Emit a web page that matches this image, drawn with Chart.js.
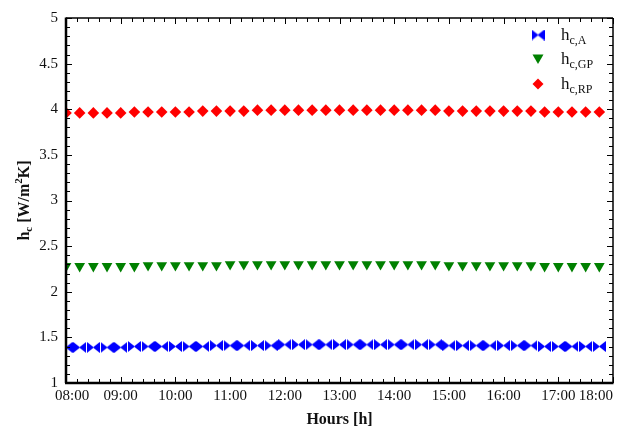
<!DOCTYPE html>
<html>
<head>
<meta charset="utf-8">
<script src="https://cdn.jsdelivr.net/npm/chart.js"></script>
<style>
html,body{margin:0;padding:0;background:#fff;}
#wrap{width:622px;height:430px;}
</style>
</head>
<body>
<div id="wrap"><canvas id="hcChart" width="622" height="430"></canvas></div>
<script>
// measurement times (every 15 min)
const times = ['08:00','08:15','08:30','08:45','09:00','09:15','09:30','09:45',
  '10:00','10:15','10:30','10:45','11:00','11:15','11:30','11:45',
  '12:00','12:15','12:30','12:45','13:00','13:15','13:30','13:45',
  '14:00','14:15','14:30','14:45','15:00','15:15','15:30','15:45',
  '16:00','16:15','16:30','16:45','17:00','17:15','17:30','17:45'];

const hcA = [1.39,1.39,1.39,1.39,1.39,1.40,1.40,1.40,1.40,1.40,1.40,1.41,1.41,1.41,1.41,1.41,
  1.42,1.42,1.42,1.42,1.42,1.42,1.42,1.42,1.42,1.42,1.42,1.42,1.41,1.41,1.41,1.41,
  1.41,1.41,1.41,1.40,1.40,1.40,1.40,1.40];
const hcGP = [2.28,2.28,2.28,2.28,2.28,2.28,2.29,2.29,2.29,2.29,2.29,2.29,2.30,2.30,2.30,2.30,
  2.30,2.30,2.30,2.30,2.30,2.30,2.30,2.30,2.30,2.30,2.30,2.30,2.29,2.29,2.29,2.29,
  2.29,2.29,2.29,2.28,2.28,2.28,2.28,2.28];
const hcRP = [3.96,3.96,3.96,3.96,3.96,3.97,3.97,3.97,3.97,3.97,3.98,3.98,3.98,3.98,3.99,3.99,
  3.99,3.99,3.99,3.99,3.99,3.99,3.99,3.99,3.99,3.99,3.99,3.99,3.98,3.98,3.98,3.98,
  3.98,3.98,3.98,3.97,3.97,3.97,3.97,3.97];

const hourLabels = ['08:00','09:00','10:00','11:00','12:00','13:00','14:00','15:00','16:00','17:00','18:00'];
const legendSubs = ['c,A','c,GP','c,RP'];

const SERIF = '"Liberation Serif", "Times New Roman", serif';

function toHours(t){
  const p = t.split(':');
  return parseInt(p[0]) + parseInt(p[1]) / 60;
}
function pts(vals){
  return vals.map((v,i) => ({x: toHours(times[i]), y: v}));
}

// bow-tie marker for h_c,A
function bowtie(color){
  const c = document.createElement('canvas');
  c.width = 13; c.height = 11;
  const g = c.getContext('2d');
  g.fillStyle = color;
  g.beginPath();
  g.moveTo(0,0); g.lineTo(7,5.5); g.lineTo(0,11); g.closePath();
  g.moveTo(13,0); g.lineTo(6,5.5); g.lineTo(13,11); g.closePath();
  g.fill();
  return c;
}
const bowA = bowtie('#0000ff');

function drawMarker(ctx, kind, x, y){
  ctx.save();
  if(kind === 0){
    ctx.drawImage(bowA, x - 6.5, y - 5.5);
  } else if(kind === 1){
    ctx.fillStyle = '#008000';
    ctx.beginPath();
    ctx.moveTo(x - 5.5, y - 4.5); ctx.lineTo(x + 5.5, y - 4.5); ctx.lineTo(x, y + 5);
    ctx.closePath(); ctx.fill();
  } else {
    ctx.fillStyle = '#ff0000';
    ctx.beginPath();
    ctx.moveTo(x, y - 5.5); ctx.lineTo(x + 5.5, y); ctx.lineTo(x, y + 5.5); ctx.lineTo(x - 5.5, y);
    ctx.closePath(); ctx.fill();
  }
  ctx.restore();
}

const framePlugin = {
  id: 'frame',
  afterDatasetsDraw(chart){
    const {ctx, chartArea: a, scales: {x, y}} = chart;
    ctx.save();
    ctx.strokeStyle = '#000';
    ctx.lineWidth = 1;
    const seg = (x1,y1,x2,y2) => { ctx.beginPath(); ctx.moveTo(x1,y1); ctx.lineTo(x2,y2); ctx.stroke(); };

    // x ticks (major each hour, minor every 12 min), bottom + top
    const nx = Math.round((x.max - x.min) / 0.2);
    for(let i = 0; i <= nx; i++){
      const px = Math.round(x.getPixelForValue(x.min + i * 0.2)) + 0.5;
      const len = (i % 5 === 0) ? 6 : 4;
      seg(px, a.bottom, px, a.bottom - len);
      seg(px, a.top, px, a.top + len);
    }
    // y ticks (major each 0.5, minor each 0.1), left + right
    const ny = Math.round((y.max - y.min) / 0.1);
    for(let i = 0; i <= ny; i++){
      const py = Math.round(y.getPixelForValue(y.min + i * 0.1)) + 0.5;
      const len = (i % 5 === 0) ? 6 : 4;
      seg(a.left, py, a.left + len, py);
      seg(a.right, py, a.right - len, py);
    }

    // box
    ctx.lineWidth = 1.5;
    seg(a.left, a.top, a.right, a.top);
    seg(a.right, a.top, a.right, a.bottom);
    ctx.lineWidth = 2.5;
    seg(a.left, a.top - 0.5, a.left, a.bottom);
    seg(a.left - 1, a.bottom, a.right + 0.5, a.bottom);

    // x tick labels, kept inside the figure at the ends
    ctx.fillStyle = '#111';
    ctx.font = '15px ' + SERIF;
    ctx.textBaseline = 'middle';
    ctx.textAlign = 'center';
    x.ticks.forEach((t, i) => {
      const lab = hourLabels[i];
      if(!lab) return;
      const w = ctx.measureText(lab).width;
      let cx = x.getPixelForValue(t.value);
      if(cx - w / 2 < 55) cx = 55 + w / 2;
      if(cx + w / 2 > a.right) cx = a.right - w / 2;
      ctx.fillText(lab, cx, 396);
    });

    // x title
    ctx.font = 'bold 16px ' + SERIF;
    ctx.fillText('Hours [h]', (a.left + a.right) / 2, 420);

    // y title with sub/superscript
    const parts = [
      {t: 'h', f: 'bold 16px ', dy: 0},
      {t: 'c', f: 'bold 11px ', dy: 4},
      {t: ' [W/m', f: 'bold 16px ', dy: 0},
      {t: '2', f: 'bold 11px ', dy: -6},
      {t: 'K]', f: 'bold 16px ', dy: 0}
    ];
    let total = 0;
    parts.forEach(p => { ctx.font = p.f + SERIF; p.w = ctx.measureText(p.t).width; total += p.w; });
    ctx.translate(25, (a.top + a.bottom) / 2);
    ctx.rotate(-Math.PI / 2);
    ctx.textAlign = 'left';
    let cx = -total / 2;
    parts.forEach(p => { ctx.font = p.f + SERIF; ctx.fillText(p.t, cx, p.dy); cx += p.w; });
    ctx.restore();

    // legend
    ctx.save();
    ctx.fillStyle = '#111';
    ctx.textBaseline = 'alphabetic';
    ctx.textAlign = 'left';
    const rows = [35, 59, 84];
    legendSubs.forEach((s, i) => {
      drawMarker(ctx, i, 538, rows[i]);
      ctx.font = '17px ' + SERIF;
      ctx.fillText('h', 561, rows[i] + 5);
      const hw = ctx.measureText('h').width;
      ctx.font = '12px ' + SERIF;
      ctx.fillText(s, 561 + hw, rows[i] + 9);
    });
    ctx.restore();
  }
};

new Chart(document.getElementById('hcChart').getContext('2d'), {
  type: 'scatter',
  data: {
    datasets: [
      {label: 'h_c,A', data: pts(hcA), pointStyle: bowA, pointRadius: 6, backgroundColor: '#0000ff', borderWidth: 0},
      {label: 'h_c,GP', data: pts(hcGP), pointStyle: 'triangle', rotation: 180, pointRadius: 6.2, backgroundColor: '#008000', borderColor: '#008000', borderWidth: 0},
      {label: 'h_c,RP', data: pts(hcRP), pointStyle: 'rectRot', pointRadius: 5.8, backgroundColor: '#ff0000', borderColor: '#ff0000', borderWidth: 0}
    ]
  },
  options: {
    responsive: false,
    animation: false,
    events: [],
    layout: {padding: {left: 0, top: 18, right: 9, bottom: 0}},
    plugins: {legend: {display: false}, tooltip: {enabled: false}},
    scales: {
      x: {
        type: 'linear', min: 8, max: 18,
        ticks: {display: false, stepSize: 1},
        grid: {display: false}, border: {display: false},
        afterFit: s => { s.height = 47; }
      },
      y: {
        min: 1, max: 5,
        ticks: {stepSize: 0.5, padding: 8, color: '#111', font: {family: SERIF, size: 15},
          callback: v => String(+v.toFixed(1))},
        grid: {display: false, drawTicks: false}, border: {display: false},
        afterFit: s => { s.width = 66; }
      }
    }
  },
  plugins: [framePlugin]
});
</script>
</body>
</html>
